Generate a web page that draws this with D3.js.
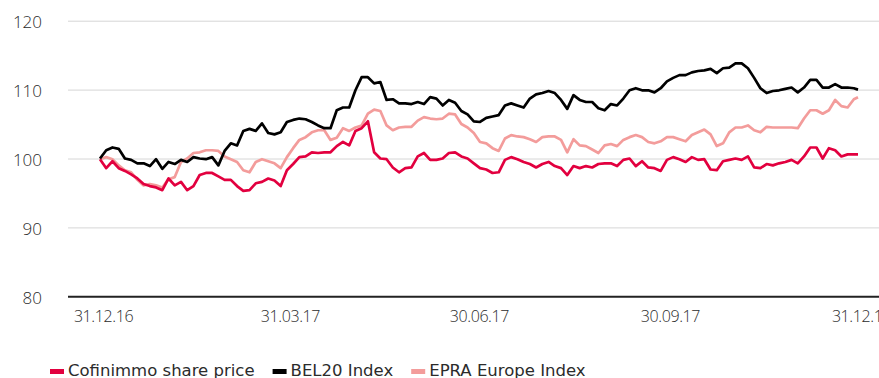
<!DOCTYPE html>
<html>
<head>
<meta charset="utf-8">
<script src="https://cdn.jsdelivr.net/npm/d3@7"></script>
<style>
  html, body { margin: 0; padding: 0; background: #fff; }
  svg { display: block; font-family: "Open Sans", sans-serif; font-weight: 300; }
</style>
</head>
<body>
<svg id="chart" width="879" height="378"></svg>
<script>
// Tick labels
const xTickLabels = ["31.12.16", "31.03.17", "30.06.17", "30.09.17", "31.12.17"];
const yTicks = [80, 90, 100, 110, 120];

// Observation days, counted from 31.12.16
const dayOffsets = d3.range(0, 364, 3).concat([365]);

// Indexed performance (31.12.16 = 100)
const cofinimmo = [
  99.9, 98.6, 99.6, 98.6, 98.2, 97.7, 97.1, 96.3, 96.0, 95.8,
  95.4, 97.1, 96.1, 96.6, 95.4, 96.0, 97.6, 97.9, 97.9, 97.4,
  96.9, 96.9, 96.0, 95.3, 95.4, 96.4, 96.6, 97.1, 96.8, 96.0,
  98.3, 99.2, 100.2, 100.3, 100.9, 100.8, 100.9, 100.9, 101.8, 102.4,
  101.9, 104.0, 104.4, 105.4, 100.9, 100.0, 99.9, 98.7, 98.0, 98.6,
  98.7, 100.3, 100.8, 99.8, 99.8, 100.0, 100.8, 100.9, 100.3, 100.0,
  99.3, 98.6, 98.4, 97.9, 98.0, 99.8, 100.2, 99.9, 99.5, 99.2,
  98.7, 99.2, 99.5, 98.9, 98.6, 97.6, 98.9, 98.6, 98.9, 98.7,
  99.2, 99.3, 99.3, 98.9, 99.8, 100.0, 98.9, 99.6, 98.7, 98.6,
  98.2, 99.8, 100.2, 99.9, 99.5, 100.2, 99.8, 99.9, 98.4, 98.3,
  99.6, 99.8, 100.0, 99.8, 100.3, 98.7, 98.6, 99.2, 99.0, 99.3,
  99.5, 99.8, 99.3, 100.3, 101.6, 101.6, 100.0, 101.5, 101.2, 100.3,
  100.6, 100.6, 100.6
];
const bel20 = [
  100.0, 101.2, 101.6, 101.4, 100.0, 99.8, 99.3, 99.3, 98.9, 99.9,
  98.5, 99.5, 99.2, 99.8, 99.5, 100.2, 100.0, 99.9, 100.2, 99.0,
  101.1, 102.2, 101.9, 104.0, 104.3, 104.0, 105.1, 103.7, 103.5, 103.8,
  105.3, 105.6, 105.8, 105.7, 105.3, 104.8, 104.4, 104.4, 107.0, 107.4,
  107.4, 109.9, 111.8, 111.8, 110.9, 111.1, 108.5, 108.6, 108.0, 108.0,
  107.9, 108.2, 107.9, 108.9, 108.7, 107.7, 108.5, 108.1, 106.9, 106.4,
  105.4, 105.3, 105.9, 106.1, 106.3, 107.7, 108.0, 107.7, 107.4, 108.7,
  109.3, 109.5, 109.8, 109.5, 108.5, 107.2, 109.2, 108.5, 108.2, 108.2,
  107.3, 107.0, 107.9, 107.7, 108.7, 109.9, 110.2, 109.9, 109.9, 109.6,
  110.2, 111.2, 111.7, 112.1, 112.1, 112.5, 112.7, 112.8, 113.0, 112.4,
  113.1, 113.2, 113.8, 113.8, 113.1, 111.7, 110.2, 109.5, 109.8, 109.9,
  110.1, 110.3, 109.6, 110.3, 111.4, 111.4, 110.3, 110.3, 110.8, 110.3,
  110.3, 110.2, 110.0
];
const epraEurope = [
  99.9, 100.2, 99.9, 99.0, 98.3, 98.0, 96.9, 96.1, 96.3, 96.1,
  95.8, 97.0, 97.3, 99.5, 100.0, 100.8, 100.9, 101.2, 101.2, 101.1,
  100.3, 99.9, 99.5, 98.3, 98.0, 99.5, 99.9, 99.6, 99.3, 98.6,
  100.2, 101.5, 102.7, 103.1, 103.8, 104.1, 104.1, 102.7, 103.0, 104.4,
  104.0, 104.5, 104.8, 106.5, 107.1, 106.9, 104.8, 104.1, 104.5, 104.6,
  104.6, 105.5, 106.0, 105.8, 105.7, 105.8, 106.5, 106.4, 105.0, 104.5,
  103.7, 102.4, 102.2, 101.5, 101.1, 102.9, 103.4, 103.2, 103.1, 102.8,
  102.4, 103.1, 103.2, 103.2, 102.7, 100.9, 102.8, 101.9, 101.8, 101.3,
  100.8, 101.9, 102.1, 101.8, 102.7, 103.1, 103.4, 103.1, 102.4, 102.2,
  102.5, 103.1, 103.1, 102.8, 102.5, 103.4, 103.8, 104.2, 103.5, 101.8,
  102.2, 103.8, 104.5, 104.5, 104.8, 104.1, 103.8, 104.6, 104.5, 104.5,
  104.5, 104.5, 104.4, 105.8, 107.0, 107.0, 106.5, 107.0, 108.5, 107.6,
  107.4, 108.6, 108.9
];

const seriesNames = ["Cofinimmo share price", "BEL20 Index", "EPRA Europe Index"];
const seriesColors = ["#e2003f", "#000000", "#f39c9b"];
const seriesValues = [cofinimmo, bel20, epraEurope];

const W = 879, H = 378;
const parseDay = d3.timeParse("%d.%m.%y");
const startDate = parseDay(xTickLabels[0]);
const endDate = parseDay(xTickLabels[xTickLabels.length - 1]);
const dates = dayOffsets.map(o => d3.timeDay.offset(startDate, o));

const gridLeft = 68;
const x = d3.scaleTime().domain([startDate, endDate]).range([100, 858]);
const y = d3.scaleLinear().domain([80, 120]).range([296.3, 20.7]);

const svg = d3.select("#chart");
const textColor = "#2b2b2b";

// Horizontal grid with value labels
const yAxis = svg.append("g")
  .attr("transform", `translate(${gridLeft},0)`)
  .call(d3.axisLeft(y).tickValues(yTicks).tickSize(-(W - gridLeft)).tickPadding(26));
yAxis.select(".domain").remove();
yAxis.selectAll(".tick line")
  .attr("stroke", d => d === 80 ? "#222" : "#d6d6d6")
  .attr("stroke-width", d => d === 80 ? 2 : 1);
yAxis.selectAll(".tick text")
  .attr("fill", textColor)
  .attr("dy", "0.4em")
  .style("font-size", "17px")
  .style("font-family", "'Open Sans', sans-serif")
  .style("font-weight", 300);

// Date labels under the baseline
const xAxis = svg.append("g")
  .attr("transform", `translate(0,${y(80)})`)
  .call(d3.axisBottom(x).tickValues(xTickLabels.map(parseDay))
    .tickFormat(d3.timeFormat("%d.%m.%y")).tickSize(0).tickPadding(14));
xAxis.select(".domain").remove();
xAxis.selectAll(".tick text")
  .attr("fill", textColor)
  .attr("dx", 3)
  .attr("dy", "0.74em")
  .style("font-size", "16px")
  .style("letter-spacing", "-0.4px")
  .style("font-family", "'Open Sans', sans-serif")
  .style("font-weight", 300);

// Series lines
const line = d3.line()
  .x((d, i) => x(dates[i]))
  .y(d => y(d))
  .curve(d3.curveLinear);

// EPRA underneath, then Cofinimmo, BEL20 on top
[2, 0, 1].forEach(k => {
  svg.append("path")
    .datum(seriesValues[k])
    .attr("fill", "none")
    .attr("stroke", seriesColors[k])
    .attr("stroke-width", 2.7)
    .attr("stroke-linejoin", "round")
    .attr("d", line);
});

// Legend
const legend = svg.append("g");
let lx = 50;
seriesNames.forEach((name, k) => {
  legend.append("rect")
    .attr("x", lx).attr("y", 369)
    .attr("width", 14).attr("height", 5)
    .attr("fill", seriesColors[k]);
  const t = legend.append("text")
    .attr("x", lx + 18).attr("y", 375.5)
    .attr("fill", textColor)
    .style("font-size", "16.5px")
    .style("font-family", "'DejaVu Sans', sans-serif")
    .style("font-weight", 400)
    .text(name);
  lx += 18 + t.node().getComputedTextLength() + 18;
});
</script>
</body>
</html>
